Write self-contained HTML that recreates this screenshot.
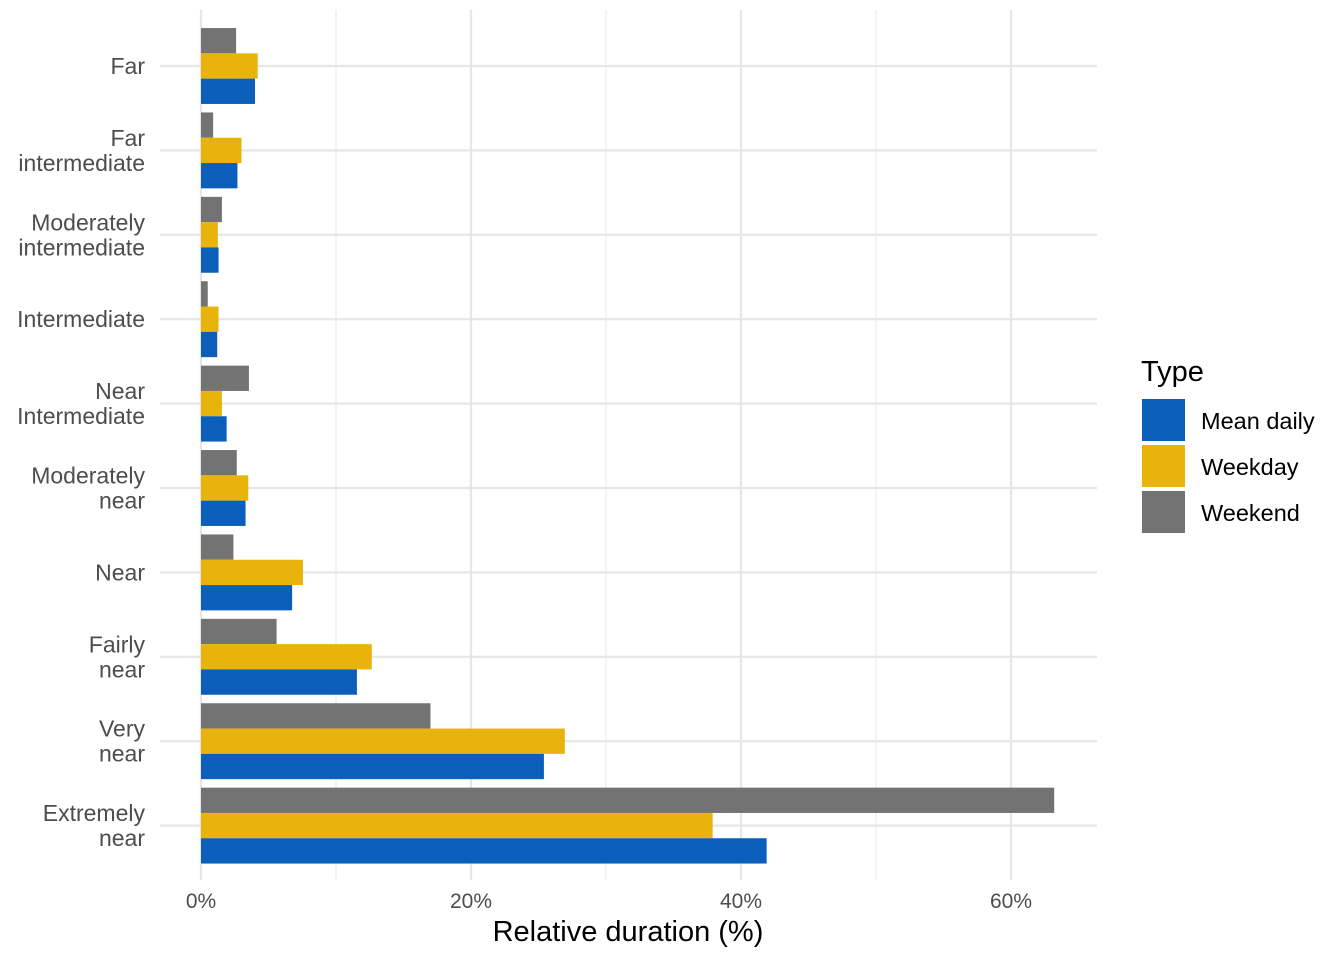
<!DOCTYPE html>
<html><head><meta charset="utf-8">
<style>
body{margin:0;background:#fff;font-family:"Liberation Sans",Arial,sans-serif;}
svg text{font-family:"Liberation Sans",Arial,sans-serif;}
</style></head>
<body>
<svg id="chart" width="1344" height="960" xmlns="http://www.w3.org/2000/svg">
<g id="grid"></g>
<g id="bars"></g>
<g id="ylabels"></g>
<g id="xlabels"></g>
<text x="628" y="941" font-size="29" text-anchor="middle" fill="#000">Relative duration (%)</text>
<g>
<text x="1141" y="381" font-size="29" fill="#000">Type</text>
<rect x="1142" y="399" width="43" height="42" fill="#0b5fba"/>
<text x="1201" y="429" font-size="23.5" fill="#000">Mean daily</text>
<rect x="1142" y="445" width="43" height="42" fill="#e8b30a"/>
<text x="1201" y="475" font-size="23.5" fill="#000">Weekday</text>
<rect x="1142" y="491" width="43" height="42" fill="#737373"/>
<text x="1201" y="521" font-size="23.5" fill="#000">Weekend</text>
</g>
</svg>
<script>
const categories = [["Far"],["Far","intermediate"],["Moderately","intermediate"],["Intermediate"],["Near","Intermediate"],["Moderately","near"],["Near"],["Fairly","near"],["Very","near"],["Extremely","near"]];
const weekend = [2.6,0.9,1.55,0.5,3.55,2.65,2.4,5.6,17.0,63.2];
const weekday = [4.2,3.0,1.25,1.3,1.55,3.5,7.55,12.65,26.95,37.9];
const meanDaily = [4.0,2.7,1.3,1.2,1.9,3.3,6.75,11.55,25.4,41.9];
const xTicks = [0,20,40,60];
const xTickLabels = ["0%","20%","40%","60%"];
const xMinor = [10,30,50];

const NS="http://www.w3.org/2000/svg";
const x = v => 201 + v*13.5;
const y = i => 66 + i*84.4;
const plotL=160, plotR=1097, plotT=10, plotB=880;
function mk(tag, attrs, parent){const e=document.createElementNS(NS,tag);for(const k in attrs)e.setAttribute(k,attrs[k]);parent.appendChild(e);return e;}
const grid=document.getElementById('grid'), bars=document.getElementById('bars'), yl=document.getElementById('ylabels'), xl=document.getElementById('xlabels');
xMinor.forEach(v=>{const l=mk('line',{x1:x(v),x2:x(v),y1:plotT,y2:plotB,stroke:'#ebebeb','stroke-width':1.2},grid);

});
xTicks.forEach((v,i)=>{const l=mk('line',{x1:x(v),x2:x(v),y1:plotT,y2:plotB,stroke:'#e6e6e6','stroke-width':2.2},grid);


const t=mk('text',{x:x(v),y:908,'font-size':21,fill:'#4d4d4d','text-anchor':'middle'},xl);t.textContent=xTickLabels[i];

});
categories.forEach((c,i)=>{const l=mk('line',{x1:plotL,x2:plotR,y1:y(i),y2:y(i),stroke:'#e6e6e6','stroke-width':2.2},grid);


const t=mk('text',{'font-size':23,fill:'#4d4d4d','text-anchor':'end'},yl);


c.forEach((line,j)=>{const ts=mk('tspan',{x:145,y:y(i)+8+(j-(c.length-1)/2)*25},t);ts.textContent=line;});});
const bh=25.3;
const series=[[weekend,'#737373','weekend',-1.5],[weekday,'#e8b30a','weekday',-0.5],[meanDaily,'#0b5fba','mean-daily',0.5]];
series.forEach(([vals,col,name,off])=>{vals.forEach((v,i)=>{const r=mk('rect',{x:x(0),y:y(i)+off*bh,width:x(v)-x(0),height:bh,fill:col},bars);

});});
</script>
</body></html>
